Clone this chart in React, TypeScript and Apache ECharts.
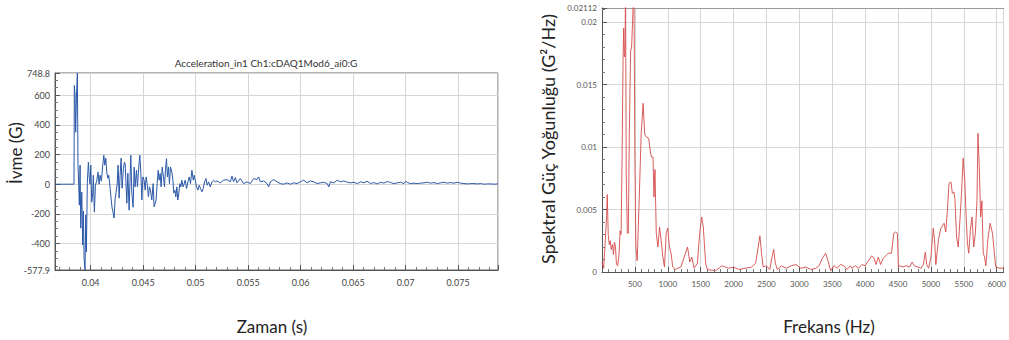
import React, { useEffect, useRef } from "react";
import * as echarts from "echarts";

// ---- Left chart: acceleration vs time ----
const accelTime = [
  0.0366, 0.03841, 0.03844, 0.03851, 0.03857, 0.03864, 0.03873, 0.03879, 0.03886, 0.03892,
  0.03899, 0.03905, 0.03915, 0.03924, 0.0393, 0.03937, 0.03946, 0.03953, 0.03959, 0.03968,
  0.03978, 0.03987, 0.03994, 0.04001, 0.0401, 0.0402, 0.04025, 0.04035, 0.04045, 0.04057,
  0.0407, 0.0408, 0.04089, 0.04102, 0.04115, 0.04125, 0.04134, 0.04144, 0.04153, 0.04163,
  0.04172, 0.04185, 0.04194, 0.04204, 0.04213, 0.04223, 0.04233, 0.04242, 0.04252, 0.04261,
  0.04271, 0.0428, 0.0429, 0.04299, 0.04312, 0.04321, 0.04328, 0.04344, 0.04354, 0.04366,
  0.04382, 0.04392, 0.04404, 0.04414, 0.04423, 0.04436, 0.04445, 0.04458, 0.04468, 0.04478,
  0.04487, 0.04497, 0.04509, 0.04519, 0.04528, 0.04538, 0.0455, 0.0456, 0.04569, 0.04582,
  0.04595, 0.04604, 0.04614, 0.04623, 0.04633, 0.04643, 0.04652, 0.04662, 0.04671, 0.04681,
  0.04693, 0.04703, 0.04712, 0.04722, 0.04731, 0.04741, 0.0475, 0.0476, 0.04773, 0.04783,
  0.04792, 0.04802, 0.04811, 0.04821, 0.0483, 0.0484, 0.04849, 0.04859, 0.04868, 0.04881,
  0.04891, 0.049, 0.04913, 0.04926, 0.04939, 0.04951, 0.04964, 0.04977, 0.04986, 0.04996,
  0.05008, 0.05022, 0.05034, 0.05046, 0.0506, 0.05072, 0.05085, 0.05098, 0.0511, 0.05123,
  0.05139, 0.05155, 0.0517, 0.05187, 0.05203, 0.05234, 0.05266, 0.05298, 0.0533, 0.05346,
  0.05361, 0.05378, 0.05394, 0.05425, 0.05457, 0.05489, 0.05521, 0.05552, 0.05584, 0.056,
  0.05616, 0.05648, 0.0568, 0.05695, 0.05711, 0.05743, 0.05775, 0.05807, 0.05838, 0.0587,
  0.05902, 0.05934, 0.05966, 0.05998, 0.06029, 0.06061, 0.06093, 0.06125, 0.06157, 0.06189,
  0.0622, 0.06253, 0.06268, 0.06284, 0.06316, 0.06348, 0.0638, 0.06411, 0.06443, 0.06475,
  0.06507, 0.06539, 0.06571, 0.06602, 0.06634, 0.06666, 0.06697, 0.0673, 0.06761, 0.06793,
  0.06825, 0.06857, 0.06888, 0.0692, 0.06952, 0.06984, 0.07, 0.07016, 0.07047, 0.07079,
  0.07111, 0.07143, 0.07175, 0.07207, 0.07238, 0.0727, 0.07302, 0.07334, 0.07365, 0.07398,
  0.07429, 0.07461, 0.07493, 0.07525, 0.07556, 0.07589, 0.0762, 0.07652, 0.07684, 0.07716,
  0.07747, 0.0778, 0.07811, 0.07843, 0.0788,
];
const accelValue = [
  0, 0, 665, 600, 350, 578, 748.8, 128, 0, -141,
  128, -296, -54, -410, -180, -497, -577.9, -208, -457, 13,
  148, 40, 0, 128, -121, -54, 60, -188, -7, 20,
  81, 0, 60, 20, 128, 195, 128, 175, 81, 40,
  60, -27, -94, -161, -188, -228, -94, -54, 0, 128,
  -94, 60, 175, -27, 107, 148, 141, -128, 74, -175,
  195, -60, -155, 115, -18, 94, -18, 115, 195, 74,
  -107, 49, 27, -40, 49, 4, -85, -18, -40, -107,
  4, -152, -130, -107, 4, 94, 27, 72, -18, 115,
  49, -18, 94, 172, 49, 116, 4, 116, 83, 27,
  -60, -40, -85, -18, -107, -60, 4, -18, 27, -18,
  4, 27, -29, 16, 49, 4, 94, 27, 60, 27,
  -18, -40, -7, -29, -51, -29, 16, 38, -7, 16,
  -18, 16, 27, 16, 22, 9, 27, 31, 16, 54,
  16, 45, 9, 38, 4, 16, 4, 38, 31, 49,
  16, 22, 4, -18, 16, 31, 16, 4, 0, 9,
  0, 9, 4, 16, 27, 9, 22, 16, 4, 9,
  13, 4, -18, 16, 9, 27, 16, 22, 13, 9,
  13, 4, 16, 9, 20, 4, 11, 2, 13, 7,
  18, 11, 4, 9, 13, 4, 20, 11, 4, 7,
  4, 7, 9, 13, 7, 11, 4, 9, 13, 7,
  11, 7, 13, 7, 4, 2, 4, 4, 2, 4,
  0, 2, 2, 0, 2,
];
const timeTitle = "Acceleration_in1 Ch1:cDAQ1Mod6_ai0:G";

// ---- Right chart: power spectral density vs frequency ----
const freqHz = [
  0, 25, 50, 70, 80, 95, 110, 125, 140, 160,
  175, 190, 205, 220, 240, 260, 275, 290, 305, 320,
  330, 340, 350, 358, 368, 385, 400, 415, 435, 450,
  465, 485, 500, 515, 535, 565, 595, 625, 650, 675,
  710, 725, 750, 775, 790, 805, 825, 850, 875, 900,
  925, 950, 975, 1000, 1025, 1050, 1075, 1115, 1150, 1200,
  1250, 1300, 1335, 1365, 1400, 1450, 1485, 1515, 1540, 1575,
  1600, 1725, 1825, 1925, 2000, 2075, 2175, 2275, 2335, 2375,
  2400, 2425, 2450, 2500, 2550, 2585, 2610, 2635, 2665, 2725,
  2800, 2875, 2950, 3025, 3100, 3175, 3250, 3300, 3350, 3400,
  3435, 3475, 3525, 3575, 3625, 3675, 3725, 3775, 3800, 3850,
  3900, 3950, 4000, 4050, 4100, 4135, 4165, 4200, 4235, 4275,
  4315, 4350, 4400, 4435, 4465, 4490, 4505, 4525, 4575, 4625,
  4675, 4715, 4750, 4800, 4850, 4885, 4915, 4935, 4965, 5000,
  5035, 5055, 5075, 5115, 5150, 5200, 5225, 5250, 5275, 5305,
  5325, 5350, 5365, 5390, 5415, 5440, 5465, 5490, 5515, 5535,
  5555, 5575, 5600, 5625, 5650, 5675, 5700, 5715, 5735, 5755,
  5775, 5795, 5815, 5835, 5865, 5900, 5935, 5965, 5985, 6050,
  6105,
];
const psdValue = [
  0.0008, 0.0003, 0.0025, 0.0045, 0.0062, 0.003, 0.0022, 0.0025, 0.0018, 0.0022,
  0.0014, 0.0024, 0.002, 0.0006, 0.0005, 0.0015, 0.0033, 0.003, 0.009, 0.017,
  0.0195, 0.0172, 0.0175, 0.023, 0.008, 0.0031, 0.0031, 0.011, 0.0177, 0.018,
  0.0201, 0.023, 0.009, 0.002, 0.0009, 0.0057, 0.011, 0.0135, 0.011, 0.0108,
  0.0107, 0.01, 0.0092, 0.0092, 0.006, 0.0082, 0.0031, 0.002, 0.0036, 0.0025,
  0.0012, 0.0004, 0.0031, 0.0035, 0.002, 0.0015, 0.0004, 0.0002, 0.0003, 0.0004,
  0.0012, 0.002, 0.0008, 0.0012, 0.0003, 0.0007, 0.0031, 0.0044, 0.0036, 0.0007,
  0.0002, 0.0001, 0.0005, 0.0003, 0.0004, 0.0002, 0.0003, 0.0004, 0.0007, 0.002,
  0.0029, 0.0015, 0.0004, 0.0005, 0.0002, 0.0012, 0.0018, 0.0007, 0.0002, 0.0005,
  0.0003, 0.0005, 0.0006, 0.0003, 0.0004, 0.0002, 0.0003, 0.0005, 0.0011, 0.0015,
  0.0009, 0.0001, 0.0005, 0.0003, 0.0006, 0.0005, 0.0002, 0.0005, 0.0003, 0.0005,
  0.0003, 0.0006, 0.0005, 0.0009, 0.0013, 0.0011, 0.0006, 0.0012, 0.0006, 0.0011,
  0.0013, 0.0015, 0.0015, 0.0031, 0.0032, 0.0031, 0.0004, 0.0005, 0.0004, 0.0005,
  0.0004, 0.0008, 0.0005, 0.0004, 0.0003, 0.0006, 0.0016, 0.0006, 0.0003, 0.0012,
  0.0035, 0.0026, 0.0006, 0.0026, 0.0035, 0.0039, 0.0032, 0.0049, 0.0071, 0.0072,
  0.0063, 0.0064, 0.0058, 0.0028, 0.002, 0.0041, 0.0063, 0.0091, 0.0073, 0.0044,
  0.0023, 0.0015, 0.0034, 0.0044, 0.002, 0.0031, 0.0057, 0.0111, 0.0084, 0.0044,
  0.0057, 0.0015, 0.0012, 0.0005, 0.0026, 0.0039, 0.0031, 0.0015, 0.0004, 0.0003,
  0.0003,
];

const axisTextFont = "Lato";

export default function App() {
  const ref = useRef<HTMLDivElement>(null);

  useEffect(() => {
    if (!ref.current) return;
    const chart = echarts.init(ref.current, null, { renderer: "svg" });

    const accelData = accelTime.map((t, i) => [t, accelValue[i]]);
    const psdData = freqHz.map((f, i) => [f, psdValue[i]]);

    const gridColor = "#d6d6d6";
    const darkAxis = "#555";

    const option: any = {
      animation: false,
      backgroundColor: "#ffffff",
      textStyle: { fontFamily: axisTextFont },
      grid: [
        {
          left: 55, top: 73, width: 443, height: 197,
          show: true, borderColor: "#666", borderWidth: 1, backgroundColor: "#fff",
        },
        { left: 602, top: 8, right: 0, height: 264 },
      ],
      xAxis: [
        {
          type: "value", gridIndex: 0, min: 0.0366, max: 0.0788, splitNumber: 8,
          axisLine: { show: true, onZero: false, lineStyle: { color: darkAxis } },
          axisTick: { show: true, inside: true, length: 5, lineStyle: { color: darkAxis } },
          minorTick: { show: true, splitNumber: 5, length: 3, lineStyle: { color: "#777" } },
          axisLabel: { showMinLabel: false, showMaxLabel: false, fontSize: 9, color: "#444", margin: 8, fontFamily: axisTextFont },
          splitLine: { show: true, lineStyle: { color: gridColor, width: 1 } },
        },
        {
          type: "value", gridIndex: 1, min: 0, max: 6105, splitNumber: 12,
          axisLine: { show: true, onZero: false, lineStyle: { color: darkAxis } },
          axisTick: { show: true, inside: true, length: 5, lineStyle: { color: darkAxis } },
          minorTick: { show: true, splitNumber: 5, length: 3, lineStyle: { color: "#777" } },
          axisLabel: {
            showMinLabel: false, showMaxLabel: false, fontSize: 8, color: "#555", margin: 8, fontFamily: axisTextFont,
            formatter: (v: number) => String(Math.round(v)),
          },
          splitLine: { show: true, lineStyle: { color: gridColor, width: 1 } },
        },
        {
          type: "value", gridIndex: 1, position: "top", min: 0, max: 6105,
          axisLine: { show: true, onZero: false, lineStyle: { color: "#999" } },
          axisTick: { show: false }, axisLabel: { show: false }, splitLine: { show: false },
        },
      ],
      yAxis: [
        {
          type: "value", gridIndex: 0, min: -577.9, max: 748.8, splitNumber: 7,
          axisLine: { show: true, onZero: false, lineStyle: { color: darkAxis } },
          axisTick: { show: true, inside: true, length: 5, lineStyle: { color: darkAxis } },
          minorTick: { show: true, splitNumber: 4, length: 3, lineStyle: { color: "#777" } },
          axisLabel: { fontSize: 9, color: "#444", margin: 5, fontFamily: axisTextFont },
          splitLine: { show: true, lineStyle: { color: gridColor, width: 1 } },
        },
        {
          type: "value", gridIndex: 1, min: 0, max: 0.02112, splitNumber: 4,
          axisLine: { show: true, onZero: false, lineStyle: { color: darkAxis } },
          axisTick: { show: true, inside: true, length: 5, lineStyle: { color: darkAxis } },
          minorTick: { show: true, splitNumber: 5, length: 3, lineStyle: { color: "#777" } },
          axisLabel: { fontSize: 8, color: "#555", margin: 5, fontFamily: axisTextFont },
          splitLine: { show: true, lineStyle: { color: gridColor, width: 1 } },
        },
      ],
      series: [
        {
          type: "line", xAxisIndex: 0, yAxisIndex: 0, data: accelData,
          showSymbol: false, symbol: "none", clip: true,
          lineStyle: { color: "#2b58a8", width: 1 },
        },
        {
          type: "line", xAxisIndex: 1, yAxisIndex: 1, data: psdData,
          showSymbol: false, symbol: "none", clip: true,
          lineStyle: { color: "#d54b4b", width: 1, opacity: 0.9 },
        },
      ],
      graphic: [
        {
          type: "text", x: 266, y: 63,
          style: { text: timeTitle, fontSize: 10, fill: "#333", fontFamily: axisTextFont, textAlign: "center", textVerticalAlign: "middle" },
        },
        {
          type: "text", x: 15, y: 153, rotation: Math.PI / 2,
          style: { text: "İvme (G)", fontSize: 17, fill: "#222", fontFamily: axisTextFont, textAlign: "center", textVerticalAlign: "middle" },
        },
        {
          type: "text", x: 272, y: 326,
          style: { text: "Zaman (s)", fontSize: 17, fill: "#222", fontFamily: axisTextFont, textAlign: "center", textVerticalAlign: "middle" },
        },
        {
          type: "text", x: 548, y: 139, rotation: Math.PI / 2,
          style: { text: "Spektral Güç Yoğunluğu (G²/Hz)", fontSize: 18, fill: "#222", fontFamily: axisTextFont, textAlign: "center", textVerticalAlign: "middle" },
        },
        {
          type: "text", x: 829, y: 326,
          style: { text: "Frekans (Hz)", fontSize: 17, fill: "#222", fontFamily: axisTextFont, textAlign: "center", textVerticalAlign: "middle" },
        },
      ],
    };

    chart.setOption(option);
    return () => chart.dispose();
  }, []);

  return (
    <div
      ref={ref}
      style={{ position: "fixed", left: 0, top: 0, width: 1009, height: 340, background: "#fff" }}
    />
  );
}
